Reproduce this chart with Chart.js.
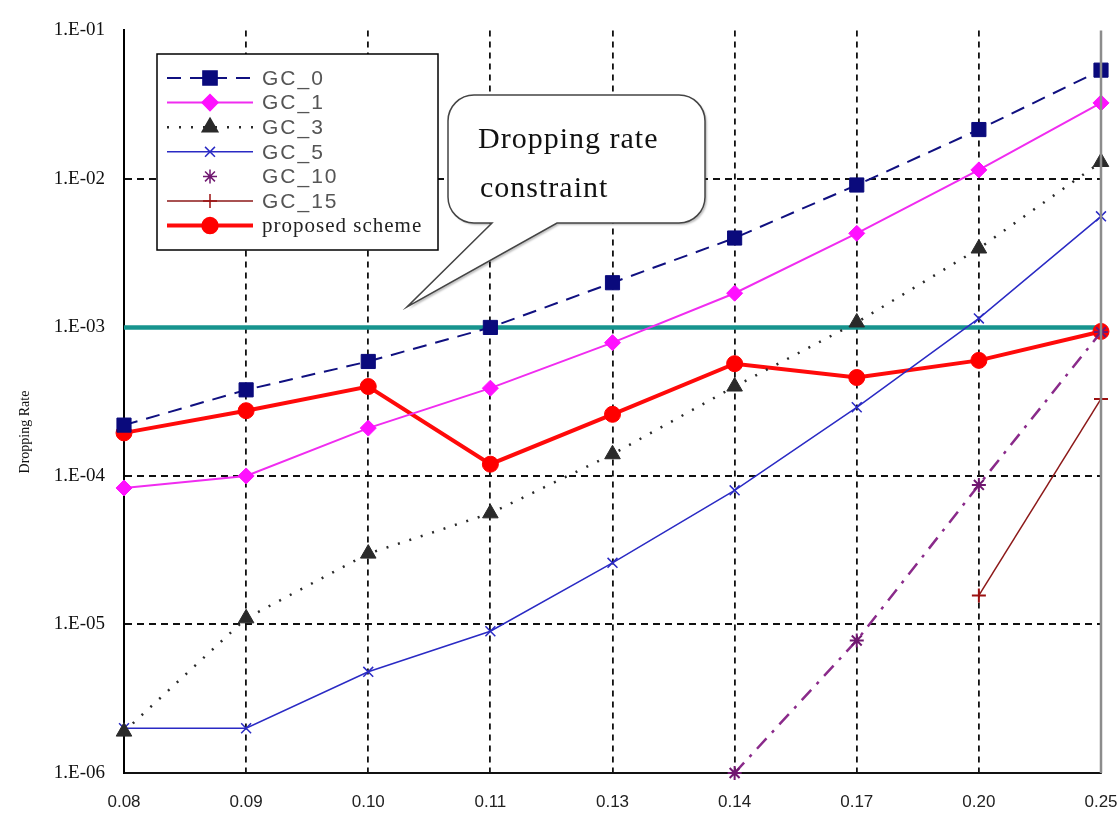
<!DOCTYPE html>
<html>
<head>
<meta charset="utf-8">
<title>Dropping Rate</title>
<script src="https://cdn.jsdelivr.net/npm/chart.js@4.4.1/dist/chart.umd.min.js"></script>
<style>
  html, body { margin: 0; padding: 0; background: #fff; }
  canvas { display: block; }
</style>
</head>
<body>
<canvas id="chart" width="1119" height="817"></canvas>
<script>
// x categories (traffic load) and y decade ticks
const loads = ["0.08", "0.09", "0.10", "0.11", "0.13", "0.14", "0.17", "0.20", "0.25"];
const tickValues = [1e-6, 1e-5, 1e-4, 1e-3, 1e-2, 1e-1];
const tickLabels = ["1.E-06", "1.E-05", "1.E-04", "1.E-03", "1.E-02", "1.E-01"];

// dropping rate per scheme
const gc0 = [2.2e-4, 3.8e-4, 5.9e-4, 1.0e-3, 2.0e-3, 4.0e-3, 9.1e-3, 2.15e-2, 5.4e-2];
const gc1 = [8.3e-5, 1.0e-4, 2.1e-4, 3.9e-4, 7.9e-4, 1.7e-3, 4.3e-3, 1.15e-2, 3.25e-2];
const gc3 = [1.9e-6, 1.1e-5, 3.0e-5, 5.6e-5, 1.4e-4, 4.0e-4, 1.08e-3, 3.4e-3, 1.3e-2];
const gc5 = [2.0e-6, 2.0e-6, 4.8e-6, 9.0e-6, 2.6e-5, 8.0e-5, 2.9e-4, 1.15e-3, 5.6e-3];
const gc10 = [null, null, null, null, null, 1.0e-6, 7.8e-6, 8.7e-5, 9.3e-4];
const gc15 = [null, null, null, null, null, null, null, 1.57e-5, 3.3e-4];
const proposed = [1.95e-4, 2.75e-4, 4.0e-4, 1.2e-4, 2.6e-4, 5.7e-4, 4.6e-4, 6.0e-4, 9.4e-4];
const constraint = [1e-3, 1e-3, 1e-3, 1e-3, 1e-3, 1e-3, 1e-3, 1e-3, 1e-3];

const calloutLines = ["Dropping rate", "constraint"];
const yTitle = "Dropping Rate";

function calloutPath(ctx, x, y, w, h, r, t1, t2, tx, ty) {
  ctx.beginPath();
  ctx.moveTo(x + r, y);
  ctx.lineTo(x + w - r, y);
  ctx.arcTo(x + w, y, x + w, y + r, r);
  ctx.lineTo(x + w, y + h - r);
  ctx.arcTo(x + w, y + h, x + w - r, y + h, r);
  ctx.lineTo(t2, y + h);
  ctx.lineTo(tx, ty);
  ctx.lineTo(t1, y + h);
  ctx.lineTo(x + r, y + h);
  ctx.arcTo(x, y + h, x, y + h - r, r);
  ctx.lineTo(x, y + r);
  ctx.arcTo(x, y, x + r, y, r);
  ctx.closePath();
}

const extras = {
  id: "extras",
  afterDatasetsDraw(chart) {
    const ctx = chart.ctx;
    const area = chart.chartArea;

    // right frame (grey)
    ctx.save();
    ctx.strokeStyle = "#8c8c8c";
    ctx.lineWidth = 2.5;
    ctx.beginPath();
    ctx.moveTo(area.right, area.top);
    ctx.lineTo(area.right, area.bottom);
    ctx.stroke();
    ctx.restore();

    // callout
    ctx.save();
    ctx.shadowColor = "rgba(0,0,0,0.25)";
    ctx.shadowOffsetX = 2;
    ctx.shadowOffsetY = 2;
    ctx.shadowBlur = 2;
    calloutPath(ctx, 448, 95, 257, 128, 26, 492, 557, 407, 307);
    ctx.fillStyle = "#fff";
    ctx.fill();
    ctx.shadowColor = "transparent";
    ctx.strokeStyle = "#444";
    ctx.lineWidth = 1.5;
    ctx.stroke();
    ctx.fillStyle = "#111";
    ctx.font = "30px 'Liberation Serif'";
    ctx.letterSpacing = "1px";
    ctx.textBaseline = "alphabetic";
    ctx.fillText(calloutLines[0], 478, 148);
    ctx.fillText(calloutLines[1], 480, 197);
    ctx.restore();

    // legend box
    ctx.save();
    ctx.fillStyle = "#fff";
    ctx.fillRect(157, 54, 281, 196);
    ctx.strokeStyle = "#000";
    ctx.lineWidth = 1.5;
    ctx.strokeRect(157, 54, 281, 196);
    let row = 0;
    chart.data.datasets.forEach(ds => {
      if (!ds.label) return;
      const y = 78 + row * 24.6;
      row++;
      if (ds.legendLine !== false) {
        ctx.save();
        ctx.strokeStyle = ds.borderColor;
        ctx.lineWidth = ds.borderWidth;
        ctx.setLineDash(ds.borderDash || []);
        ctx.beginPath();
        ctx.moveTo(167, y);
        ctx.lineTo(253, y);
        ctx.stroke();
        ctx.restore();
      }
      ctx.save();
      ctx.fillStyle = ds.pointBackgroundColor;
      ctx.strokeStyle = ds.pointBorderColor;
      Chart.helpers.drawPoint(ctx, {
        pointStyle: ds.pointStyle,
        radius: ds.pointRadius,
        rotation: 0,
        borderWidth: ds.pointBorderWidth
      }, 210, y);
      ctx.restore();
      ctx.save();
      ctx.fillStyle = "#222";
      ctx.textBaseline = "middle";
      if (ds.label.startsWith("GC")) {
        ctx.font = "21px 'Liberation Sans'";
        ctx.letterSpacing = "2px";
        ctx.fillStyle = "#555";
      } else {
        ctx.font = "21px 'Liberation Serif'";
        ctx.letterSpacing = "1px";
      }
      ctx.fillText(ds.label, 262, y + 1);
      ctx.restore();
    });
    ctx.restore();
  },
  afterDraw(chart) {
    const ctx = chart.ctx;
    ctx.save();
    ctx.translate(25, 432);
    ctx.rotate(-Math.PI / 2);
    ctx.font = "14px 'Liberation Serif'";
    ctx.fillStyle = "#111";
    ctx.textAlign = "center";
    ctx.textBaseline = "middle";
    ctx.fillText(yTitle, 0, 0);
    ctx.restore();
  }
};

Chart.defaults.font.family = "'Liberation Serif'";
Chart.defaults.color = "#111";

new Chart(document.getElementById("chart"), {
  type: "line",
  data: {
    labels: loads,
    datasets: [
      {
        label: "GC_0", data: gc0,
        borderColor: "#101080", borderWidth: 2, borderDash: [14, 9],
        pointStyle: "rect", pointRadius: 10,
        pointBackgroundColor: "#0a0a7c", pointBorderColor: "#0a0a7c", pointBorderWidth: 1
      },
      {
        label: "GC_1", data: gc1,
        borderColor: "#f02cf0", borderWidth: 2,
        pointStyle: "rectRot", pointRadius: 8,
        pointBackgroundColor: "#ff10ff", pointBorderColor: "#ff10ff", pointBorderWidth: 1
      },
      {
        label: "GC_3", data: gc3,
        borderColor: "#2a2a2a", borderWidth: 2.5, borderDash: [2, 10],
        pointStyle: "triangle", pointRadius: 9,
        pointBackgroundColor: "#2a2a2a", pointBorderColor: "#2a2a2a", pointBorderWidth: 1
      },
      {
        label: "GC_5", data: gc5,
        borderColor: "#2a2ac4", borderWidth: 1.5,
        pointStyle: "crossRot", pointRadius: 7,
        pointBackgroundColor: "#2a2ac4", pointBorderColor: "#2a2ac4", pointBorderWidth: 1.5
      },
      {
        label: "GC_10", data: gc10, legendLine: false,
        borderColor: "#8a2a8a", borderWidth: 2.5, borderDash: [14, 8, 3, 8],
        pointStyle: "star", pointRadius: 7,
        pointBackgroundColor: "#701870", pointBorderColor: "#701870", pointBorderWidth: 2
      },
      {
        label: "GC_15", data: gc15,
        borderColor: "#8c1818", borderWidth: 1.5,
        pointStyle: "cross", pointRadius: 7,
        pointBackgroundColor: "#9c1010", pointBorderColor: "#9c1010", pointBorderWidth: 2
      },
      {
        label: "proposed scheme", data: proposed,
        borderColor: "#ff0a0a", borderWidth: 4,
        pointStyle: "circle", pointRadius: 8,
        pointBackgroundColor: "#ff0000", pointBorderColor: "#ff0000", pointBorderWidth: 1
      },
      {
        label: "", data: constraint,
        borderColor: "#17948e", borderWidth: 4.5,
        pointRadius: 0
      }
    ].map(ds => Object.assign({ fill: false, tension: 0, clip: false, spanGaps: false }, ds))
  },
  options: {
    responsive: false,
    animation: false,
    devicePixelRatio: 1,
    events: [],
    layout: { padding: { left: 0, top: 22, right: 0, bottom: 0 } },
    plugins: {
      legend: { display: false },
      tooltip: { enabled: false },
      title: { display: false }
    },
    scales: {
      x: {
        type: "category",
        offset: false,
        afterFit: s => { s.height = 44; s.paddingRight = 18; s.paddingLeft = 18; },
        grid: {
          drawTicks: false,
          lineWidth: 1.8,
          color: c => (c.index === 0 || c.index === loads.length - 1) ? "rgba(0,0,0,0)" : "#111"
        },
        border: { display: true, color: "#111", width: 2, dash: [6, 5] },
        ticks: {
          padding: 19,
          maxRotation: 0,
          autoSkip: false,
          color: "#222",
          font: { family: "'Liberation Sans'", size: 17 }
        }
      },
      y: {
        type: "logarithmic",
        min: 1e-6,
        max: 1e-1,
        afterFit: s => { s.width = 124; },
        afterBuildTicks: s => { s.ticks = tickValues.map(v => ({ value: v, major: true })); },
        grid: {
          drawTicks: false,
          lineWidth: 2,
          color: c => (c.tick && (c.tick.value === 1e-1 || c.tick.value === 1e-6)) ? "rgba(0,0,0,0)" : "#111"
        },
        border: { display: true, color: "#000", width: 2, dash: [7, 5] },
        ticks: {
          padding: 19,
          color: "#111",
          font: { family: "'Liberation Serif'", size: 19 },
          callback: v => tickLabels[tickValues.indexOf(v)]
        }
      }
    }
  },
  plugins: [extras]
});
</script>
</body>
</html>
